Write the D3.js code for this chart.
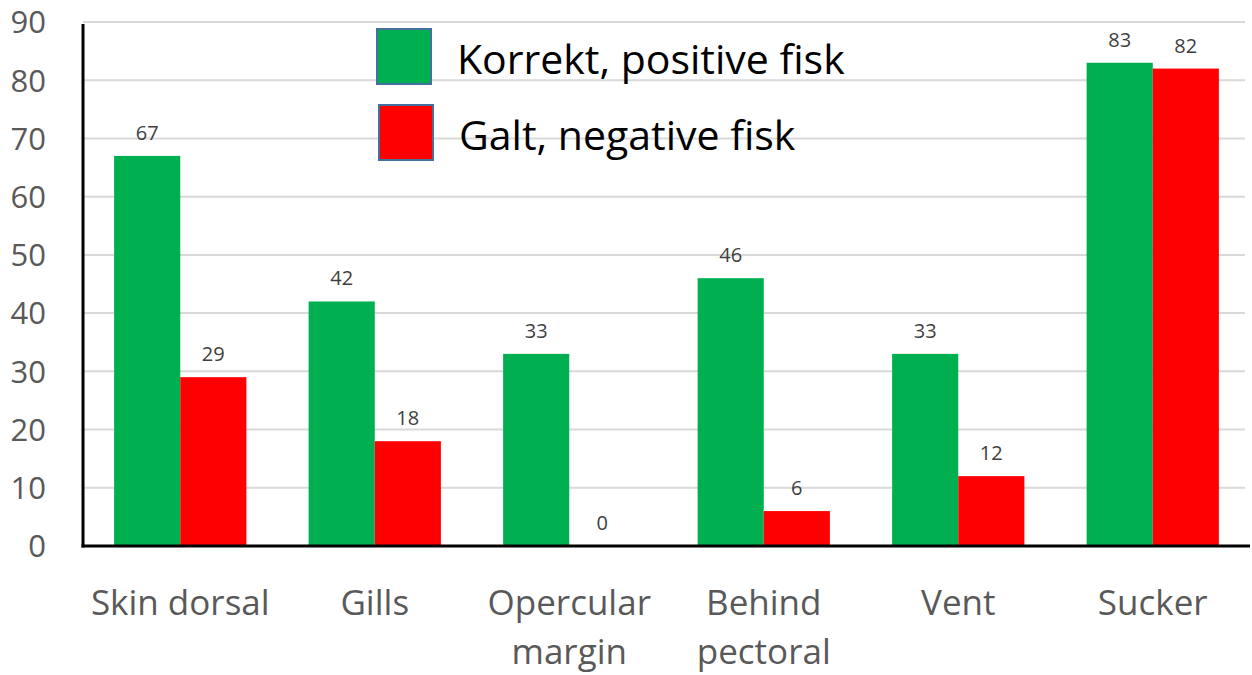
<!DOCTYPE html>
<html>
<head>
<meta charset="utf-8">
<script src="https://cdn.jsdelivr.net/npm/d3@7"></script>
<style>
  body { margin: 0; background: #fff; }
  text { font-family: "Open Sans", sans-serif; }
</style>
</head>
<body>
<div class="chart"></div>
<script>
// chart data
var categories = [["Skin dorsal"], ["Gills"], ["Opercular", "margin"], ["Behind", "pectoral"], ["Vent"], ["Sucker"]];
var seriesNames = ["Korrekt, positive fisk", "Galt, negative fisk"];
var positive = [67, 42, 33, 46, 33, 83];
var negative = [29, 18, 0, 6, 12, 82];
var yTicks = [0, 10, 20, 30, 40, 50, 60, 70, 80, 90];
var colors = ["#00B050", "#FF0000"];

var svgWidth = 1252;
var svgHeight = 675;
var margin = { top: 22, right: 2, bottom: 129, left: 83 };
var width = svgWidth - margin.left - margin.right;
var height = svgHeight - margin.top - margin.bottom;

var svg = d3.select(".chart")
  .append("svg")
  .attr("width", svgWidth)
  .attr("height", svgHeight);

var chart = svg.append("g")
  .attr("transform", `translate(${margin.left}, ${margin.top})`);

var x = d3.scaleBand()
  .domain(d3.range(categories.length))
  .range([0, width])
  .paddingInner(0.32)
  .paddingOuter(0.16);

var x1 = d3.scaleBand()
  .domain([0, 1])
  .range([0, x.bandwidth()]);

var y = d3.scaleLinear().domain([0, 90]).range([height, 0]);

// gridlines
chart.selectAll(".grid")
  .data(yTicks.slice(1))
  .enter().append("line")
  .attr("x1", 0)
  .attr("x2", width - 5)
  .attr("y1", function(d) { return y(d); })
  .attr("y2", function(d) { return y(d); })
  .attr("stroke", "#d9d9d9")
  .attr("stroke-width", 2);

// y tick labels
var yAxis = d3.axisLeft(y).tickValues(yTicks).tickSize(0).tickPadding(37);
var yg = chart.append("g").call(yAxis);
yg.select(".domain").remove();
yg.selectAll("text")
  .style("font-family", "'Open Sans', sans-serif")
  .style("font-size", "31px")
  .attr("fill", "#595959")
  .attr("dy", "0.35em");

// bars
var groups = chart.selectAll(".group")
  .data(categories)
  .enter().append("g")
  .attr("transform", function(d, i) { return `translate(${x(i)},0)`; });

groups.selectAll("rect")
  .data(function(d, i) { return [positive[i], negative[i]]; })
  .enter().append("rect")
  .attr("x", function(d, j) { return x1(j); })
  .attr("y", function(d) { return y(d); })
  .attr("width", x1.bandwidth())
  .attr("height", function(d) { return height - y(d); })
  .attr("fill", function(d, j) { return colors[j]; });

groups.selectAll(".val")
  .data(function(d, i) { return [positive[i], negative[i]]; })
  .enter().append("text")
  .attr("x", function(d, j) { return x1(j) + x1.bandwidth() / 2; })
  .attr("y", function(d) { return y(d) - 16; })
  .attr("text-anchor", "middle")
  .style("font-size", "20px")
  .attr("fill", "#404040")
  .text(function(d) { return d; });

// axes lines
chart.append("line")
  .attr("x1", 0).attr("x2", 0)
  .attr("y1", 2).attr("y2", height + 1.5)
  .attr("stroke", "#000").attr("stroke-width", 3);
chart.append("line")
  .attr("x1", -1.5).attr("x2", width)
  .attr("y1", height).attr("y2", height)
  .attr("stroke", "#000").attr("stroke-width", 3);

// category labels
var cat = chart.selectAll(".cat")
  .data(categories)
  .enter().append("text")
  .attr("x", function(d, i) { return x(i) + x.bandwidth() / 2; })
  .attr("y", height + 69)
  .attr("text-anchor", "middle")
  .style("font-size", "35px")
  .attr("fill", "#595959");
cat.selectAll("tspan")
  .data(function(d) { return d; })
  .enter().append("tspan")
  .attr("x", function() { return this.parentNode.getAttribute("x"); })
  .attr("dy", function(d, k) { return k === 0 ? 0 : 49; })
  .text(function(d) { return d; });

// legend
var legend = svg.append("g")
  .attr("transform", "translate(377, 29)");
var li = legend.selectAll(".item")
  .data(seriesNames)
  .enter().append("g")
  .attr("transform", function(d, i) { return `translate(${i * 2}, ${i * 76})`; });
li.append("rect")
  .attr("width", 54)
  .attr("height", 55)
  .attr("fill", function(d, i) { return colors[i]; })
  .attr("stroke", "#41719C")
  .attr("stroke-width", 2);
li.append("text")
  .attr("x", 80 - 2 * 0)
  .attr("y", 45)
  .style("font-size", "41px")
  .attr("fill", "#000")
  .text(function(d) { return d; });
</script>
</body>
</html>
